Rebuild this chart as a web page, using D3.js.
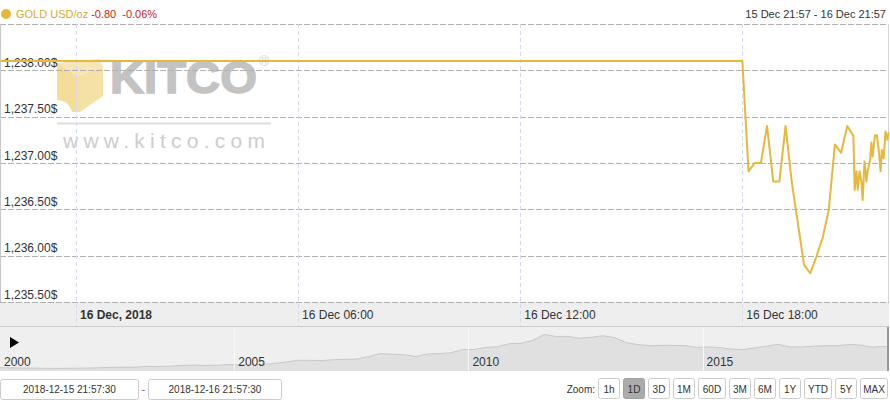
<!DOCTYPE html>
<html><head><meta charset="utf-8">
<script src="https://cdn.jsdelivr.net/npm/d3@7"></script>
<style>
html,body{margin:0;padding:0;background:#fff;}
svg{display:block;font-family:"Liberation Sans",Arial,sans-serif;}
</style></head>
<body>
<svg id="c" width="890" height="400"></svg>
<script>
// ---------- DATA ----------
const seriesName = "GOLD USD/oz";
const changeAbs = "-0.80";
const changePct = "-0.06%";
const rangeLabel = "15 Dec 21:57 - 16 Dec 21:57";
const rangeStart = "2018-12-15 21:57:30";
const rangeEnd = "2018-12-16 21:57:30";

const yTicks = [1235.5, 1236, 1236.5, 1237, 1237.5, 1238];
const xTickTimes = ["2018-12-16 00:00:00", "2018-12-16 06:00:00", "2018-12-16 12:00:00", "2018-12-16 18:00:00"];
const xTickLabels = ["16 Dec, 2018", "16 Dec 06:00", "16 Dec 12:00", "16 Dec 18:00"];

const priceTimes = [
  "2018-12-15 21:57:30", "2018-12-16 18:00:00", "2018-12-16 18:10:00", "2018-12-16 18:20:00",
  "2018-12-16 18:30:00", "2018-12-16 18:40:00", "2018-12-16 18:50:00", "2018-12-16 19:00:00",
  "2018-12-16 19:10:00", "2018-12-16 19:20:00", "2018-12-16 19:30:00", "2018-12-16 19:40:00",
  "2018-12-16 19:50:00", "2018-12-16 20:00:00", "2018-12-16 20:10:00", "2018-12-16 20:20:00",
  "2018-12-16 20:30:00", "2018-12-16 20:40:00", "2018-12-16 20:50:00", "2018-12-16 21:00:00",
  "2018-12-16 21:02:00", "2018-12-16 21:05:00", "2018-12-16 21:07:00", "2018-12-16 21:10:00",
  "2018-12-16 21:13:00", "2018-12-16 21:15:00", "2018-12-16 21:18:00", "2018-12-16 21:21:00",
  "2018-12-16 21:23:00", "2018-12-16 21:27:00", "2018-12-16 21:29:00", "2018-12-16 21:31:00",
  "2018-12-16 21:35:00", "2018-12-16 21:38:00", "2018-12-16 21:41:00", "2018-12-16 21:44:00",
  "2018-12-16 21:46:00", "2018-12-16 21:49:00", "2018-12-16 21:52:00", "2018-12-16 21:55:00",
  "2018-12-16 21:57:00"
];
const priceValues = [
  1238.10, 1238.10, 1236.91, 1237.00,
  1237.00, 1237.40, 1236.80, 1236.80,
  1237.40, 1236.80, 1236.35, 1235.90,
  1235.81, 1235.99, 1236.19, 1236.49,
  1237.20, 1237.11, 1237.40, 1237.29,
  1236.71, 1236.91, 1236.71, 1236.91,
  1236.79, 1236.60, 1237.02, 1236.80,
  1236.91, 1237.03, 1237.22, 1237.07,
  1237.30, 1237.30, 1237.14, 1236.91,
  1237.14, 1237.05, 1237.34, 1237.25,
  1237.33
];

// navigator: quarterly gold price 2000 Q1 .. 2018 Q4
const navStart = "2000-02-15";
const navQuarterly = [
  290, 280, 277, 270,   263, 264, 272, 280,   290, 313, 314, 322,
  352, 347, 363, 392,   408, 393, 401, 434,   427, 427, 440, 485,
  554, 628, 622, 614,   650, 667, 680, 788,   925, 896, 872, 795,
  909, 922, 960, 1100,  1109, 1197, 1227, 1367, 1386, 1506, 1780, 1688,
  1691, 1609, 1652, 1722, 1632, 1415, 1326, 1272, 1293, 1288, 1282, 1201,
  1218, 1192, 1124, 1105, 1183, 1260, 1335, 1222, 1219, 1257, 1278, 1276,
  1329, 1306, 1213, 1240
];
const navYears = ["2000", "2005", "2010", "2015"];

const dateInputs = ["2018-12-15 21:57:30", "2018-12-16 21:57:30"];
const zoomButtons = ["1h", "1D", "3D", "1M", "60D", "3M", "6M", "1Y", "YTD", "5Y", "MAX"];
const zoomSelected = "1D";

// ---------- DRAW ----------
const svg = d3.select("#c");
const parse = d3.timeParse("%Y-%m-%d %H:%M:%S");
const gold = "#e5b83e";

const plotTop = 24, plotBottom = 302, plotLeft = 0.5, plotRight = 888.5;
const x = d3.scaleTime().domain([parse(rangeStart), parse(rangeEnd)]).range([0.4, 888.9]);
const y = d3.scaleLinear().domain([1235.5, 1238.5]).range([plotBottom, plotTop]);

svg.append("rect").attr("x", plotLeft).attr("y", plotTop).attr("width", plotRight - plotLeft).attr("height", plotBottom - plotTop).attr("fill", "#fff");
svg.append("rect").attr("x", 0).attr("y", plotBottom).attr("width", 889).attr("height", 24).attr("fill", "#eeeeee");

// watermark
const wm = svg.append("g").attr("opacity", 0.9);
wm.append("path").attr("d", "M57,63 L99,59 L103,67 L77,76 Z").attr("fill", "#f7e4ae");
wm.append("path").attr("d", "M57,63 L77,76 L77,112 L72,112 C70,104 64,100 57,100 Z").attr("fill", "#f3d98f");
wm.append("path").attr("d", "M77,76 L103,67 L103,96 L80,112 L77,112 Z").attr("fill", "#f5de9d");
wm.append("text").attr("x", 110).attr("y", 93).attr("font-size", 44).attr("font-weight", "bold")
  .attr("fill", "#bdbdbd").attr("stroke", "#bdbdbd").attr("stroke-width", 1.5)
  .attr("textLength", 147).attr("lengthAdjust", "spacingAndGlyphs").text("KITCO");
wm.append("text").attr("x", 259).attr("y", 66).attr("font-size", 14).attr("fill", "#cccccc").text("®");
wm.append("line").attr("x1", 57).attr("x2", 271).attr("y1", 123.5).attr("y2", 123.5).attr("stroke", "#dcdcdc").attr("stroke-width", 2);
wm.append("text").attr("x", 63).attr("y", 148).attr("font-size", 21).attr("fill", "#c8c8c8")
  .attr("textLength", 202).attr("lengthAdjust", "spacing").text("www.kitco.com");

// horizontal gridlines (including top border at 1238.5)
const yGrid = yTicks.concat([1238.5]);
svg.append("g").selectAll("line").data(yGrid).join("line")
  .attr("x1", 0).attr("x2", 889)
  .attr("y1", d => Math.round(y(d)) + 0.5).attr("y2", d => Math.round(y(d)) + 0.5)
  .attr("stroke", "#b0b0b0").attr("stroke-dasharray", "6,2");

// vertical gridlines
svg.append("g").selectAll("line").data(xTickTimes).join("line")
  .attr("x1", d => Math.round(x(parse(d))) + 0.5).attr("x2", d => Math.round(x(parse(d))) + 0.5)
  .attr("y1", plotTop).attr("y2", 326)
  .attr("stroke", "#d6d9ec").attr("stroke-dasharray", "4,3");

svg.append("line").attr("x1", 0.5).attr("x2", 0.5).attr("y1", plotTop).attr("y2", plotBottom).attr("stroke", "#c8c8c8");
svg.append("line").attr("x1", 888.5).attr("x2", 888.5).attr("y1", plotTop).attr("y2", plotBottom).attr("stroke", "#d8d8d8");

// y labels
svg.append("g").selectAll("text").data(yTicks).join("text")
  .attr("x", 4).attr("y", d => y(d) - 3.5)
  .attr("font-size", 12).attr("fill", "#333")
  .text(d => d3.format(",.2f")(d) + "$");

// x labels
svg.append("g").selectAll("text").data(xTickTimes).join("text")
  .attr("x", d => x(parse(d)) + 4).attr("y", 319)
  .attr("font-size", 12).attr("fill", "#333")
  .attr("font-weight", (d, i) => i === 0 ? "bold" : "normal")
  .text((d, i) => xTickLabels[i]);

// price line
const pts = priceTimes.map((t, i) => [parse(t), priceValues[i]]);
svg.append("path").datum(pts)
  .attr("d", d3.line().x(d => x(d[0])).y(d => y(d[1])))
  .attr("fill", "none").attr("stroke", gold).attr("stroke-width", 2).attr("stroke-linejoin", "round");

// header
svg.append("circle").attr("cx", 6).attr("cy", 14).attr("r", 5).attr("fill", gold);
const ht = svg.append("text").attr("x", 16).attr("y", 18).attr("font-size", 11);
ht.append("tspan").attr("fill", "#d9a92b").text(seriesName);
ht.append("tspan").attr("fill", "#cc2222").attr("dx", 3).text(changeAbs);
ht.append("tspan").attr("fill", "#cc2222").attr("dx", 6).text(changePct);
svg.append("text").attr("x", 886).attr("y", 18).attr("text-anchor", "end").attr("font-size", 11).attr("fill", "#333").text(rangeLabel);

// ---------- navigator ----------
const navTop = 327, navBottom = 371;
svg.append("line").attr("x1", 0).attr("x2", 889).attr("y1", 326.5).attr("y2", 326.5).attr("stroke", "#cccccc");
svg.append("rect").attr("x", 0).attr("y", navTop).attr("width", 889).attr("height", navBottom - navTop).attr("fill", "#efefef");
const nx = d3.scaleTime().domain([new Date(2000, 0, 1), parse(rangeEnd)]).range([0, 888]);
const ny = d3.scaleLinear().domain([147, 2111]).range([navBottom, navTop]);
const navStartDate = d3.timeParse("%Y-%m-%d")(navStart);
const navPts = navQuarterly.map((v, i) => [d3.timeMonth.offset(navStartDate, 3 * i), v]);
navPts.unshift([new Date(2000, 0, 1), navQuarterly[0]]);
navPts.push([parse(rangeEnd), 1238]);
svg.append("path").datum(navPts)
  .attr("d", d3.area().x(d => nx(d[0])).y0(navBottom).y1(d => ny(d[1])))
  .attr("fill", "#e0e0e0");
svg.append("path").datum(navPts)
  .attr("d", d3.line().x(d => nx(d[0])).y(d => ny(d[1])))
  .attr("fill", "none").attr("stroke", "#c8c8c8").attr("stroke-width", 1);
const yearDate = d3.timeParse("%Y");
svg.append("g").selectAll("line").data(navYears.slice(1)).join("line")
  .attr("x1", d => Math.round(nx(yearDate(d))) + 0.5).attr("x2", d => Math.round(nx(yearDate(d))) + 0.5)
  .attr("y1", navTop).attr("y2", navBottom).attr("stroke", "#f8f8f8");
svg.append("g").selectAll("text").data(navYears).join("text")
  .attr("x", d => nx(yearDate(d)) + 4).attr("y", 366)
  .attr("font-size", 12).attr("fill", "#333").text(d => d);
svg.append("path").attr("d", "M10,337 L19,342.5 L10,348 Z").attr("fill", "#000");
svg.append("line").attr("x1", 888).attr("x2", 888).attr("y1", navTop).attr("y2", navBottom).attr("stroke", "#999").attr("stroke-width", 2);

// ---------- bottom controls ----------
const boxes = [[0.5, 138.5], [148.5, 281.5]];
dateInputs.forEach((t, i) => {
  const [a, b] = boxes[i];
  svg.append("rect").attr("x", a).attr("y", 379.5).attr("width", b - a).attr("height", 20).attr("rx", 2)
    .attr("fill", "#fff").attr("stroke", "#cccccc");
  svg.append("text").attr("x", (a + b) / 2).attr("y", 393).attr("text-anchor", "middle")
    .attr("font-size", 10).attr("fill", "#333").text(t);
});
svg.append("text").attr("x", 143.5).attr("y", 393).attr("text-anchor", "middle").attr("font-size", 10).attr("fill", "#666").text("-");

const bw = d => d.length >= 3 ? 28 : 22;
const gap = 3;
let totalW = d3.sum(zoomButtons, bw) + gap * (zoomButtons.length - 1);
let bx = 888 - totalW;
svg.append("text").attr("x", bx - 3).attr("y", 392.5).attr("text-anchor", "end").attr("font-size", 10).attr("fill", "#333").text("Zoom:");
zoomButtons.forEach(lbl => {
  const w = bw(lbl);
  const sel = lbl === zoomSelected;
  svg.append("rect").attr("x", bx + 0.5).attr("y", 378.5).attr("width", w - 1).attr("height", 20).attr("rx", 2)
    .attr("fill", sel ? "#ababab" : "#fff").attr("stroke", sel ? "#a0a0a0" : "#cccccc");
  svg.append("text").attr("x", bx + w / 2).attr("y", 392.5).attr("text-anchor", "middle")
    .attr("font-size", 10).attr("fill", "#333").text(lbl);
  bx += w + gap;
});
</script>
</body></html>
